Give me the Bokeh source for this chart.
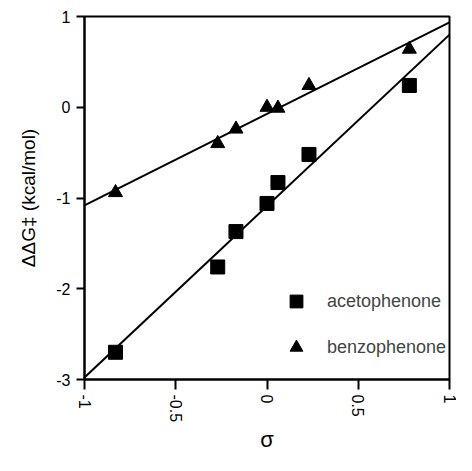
import numpy as np
from bokeh.plotting import figure
from bokeh.models import Range1d, FixedTicker, Legend, LegendItem
from bokeh.embed import file_html
from bokeh.resources import INLINE

# Hammett sigma values
sigma_aceto = [-0.83, -0.27, -0.17, 0.00, 0.06, 0.23, 0.78]
ddg_aceto = [-2.70, -1.76, -1.37, -1.06, -0.83, -0.52, 0.24]
sigma_benzo = [-0.83, -0.27, -0.17, 0.00, 0.06, 0.23, 0.78]
ddg_benzo = [-0.94, -0.40, -0.24, 0.00, -0.01, 0.24, 0.64]

x_ticks = [-1, -0.5, 0, 0.5, 1]
x_tick_labels = ["-1", "-0.5", "0", "0.5", "1"]
y_ticks = [-3, -2, -1, 0, 1]
y_tick_labels = ["-3", "-2", "-1", "0", "1"]
fit_x = [-1, 1]

FONT = "Liberation Sans"

p = figure(width=456, height=455, x_range=Range1d(-1, 1), y_range=Range1d(-3, 1),
           output_backend="svg", toolbar_location=None,
           min_border_left=84, min_border_right=7, min_border_top=16, min_border_bottom=63)

p.xgrid.visible = False
p.ygrid.visible = False
p.outline_line_color = "black"
p.outline_line_width = 2
p.outline_line_alpha = 1

# fitted lines
ka = np.polyfit(sigma_aceto, ddg_aceto, 1)
kb = np.polyfit(sigma_benzo, ddg_benzo, 1)
p.line(fit_x, np.polyval(ka, fit_x), line_color="black", line_width=2)
p.line(fit_x, np.polyval(kb, fit_x), line_color="black", line_width=2)

r1 = p.scatter(sigma_aceto, ddg_aceto, marker="square", size=14, fill_color="black", line_color="black")
r2 = p.scatter(sigma_benzo, ddg_benzo, marker="triangle", size=14, fill_color="black", line_color="black")

for ax in (p.xaxis[0], p.yaxis[0]):
    ax.axis_line_width = 2
    ax.major_tick_line_width = 2
    ax.minor_tick_line_color = None
    ax.major_tick_in = 0
    ax.major_label_text_font = FONT
    ax.axis_label_text_font = FONT
    ax.axis_label_text_font_style = "normal"
    ax.major_label_text_color = "black"
    ax.axis_label_text_color = "black"

p.xaxis.ticker = FixedTicker(ticks=x_ticks)
p.xaxis.major_label_overrides = dict(zip(x_ticks, x_tick_labels))
p.xaxis.major_label_orientation = "vertical"
p.xaxis.major_tick_out = 10
p.xaxis.major_label_text_font_size = "16px"
p.xaxis.major_label_standoff = 5
p.xaxis.axis_label = "σ"
p.xaxis.axis_label_text_font_size = "22px"
p.xaxis.axis_label_standoff = 2

p.yaxis.ticker = FixedTicker(ticks=y_ticks)
p.yaxis.major_label_overrides = dict(zip(y_ticks, y_tick_labels))
p.yaxis.major_tick_out = 8
p.yaxis.major_label_text_font_size = "16px"
p.yaxis.major_label_standoff = 6
p.yaxis.axis_label = "ΔΔG‡ (kcal/mol)"
p.yaxis.axis_label_text_font_size = "19px"
p.yaxis.axis_label_standoff = 14

legend = Legend(items=[LegendItem(label="acetophenone", renderers=[r1]),
                       LegendItem(label="benzophenone", renderers=[r2])],
                location=(196, 16), padding=0, margin=0, spacing=14,
                glyph_width=32, glyph_height=32, label_height=32, label_standoff=15,
                border_line_color=None, background_fill_alpha=0,
                label_text_font=FONT, label_text_font_size="18px")
p.add_layout(legend)

open("out.html", "w").write(file_html(p, INLINE))
